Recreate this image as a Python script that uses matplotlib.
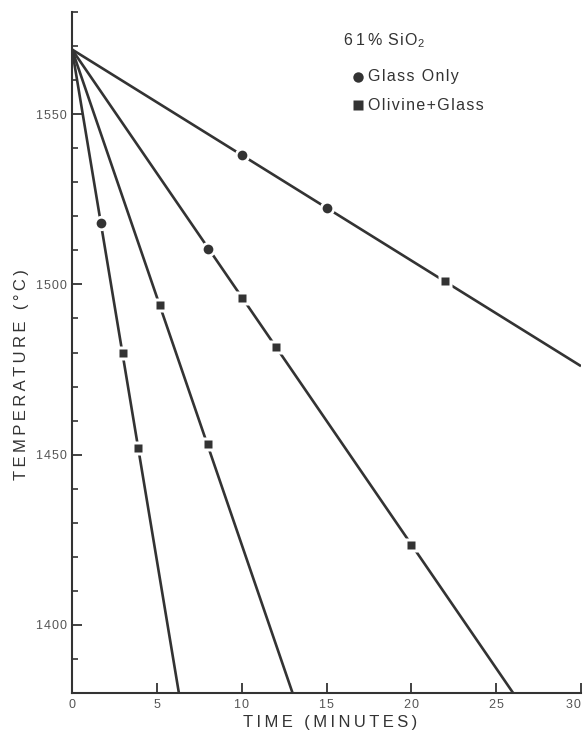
import matplotlib
matplotlib.use("Agg")
import matplotlib.pyplot as plt
from matplotlib.ticker import MultipleLocator

plt.rcParams["font.family"] = ["Liberation Sans", "DejaVu Sans"]
plt.rcParams["mathtext.fontset"] = "custom"
plt.rcParams["mathtext.rm"] = "Liberation Sans"

INK = "#333333"

# cooling paths: every run starts at the same melt temperature
start_time = 0
start_temp = 1569
line_end_time = [30, 26, 13, 6.3]
line_end_temp = [1476, 1380, 1380, 1380]

# quench points, read by phase assemblage
glass_time = [10, 15, 8, 1.7]
glass_temp = [1538, 1522.5, 1510.5, 1518]
olivine_time = [22, 10, 12, 20, 5.2, 8, 3, 3.9]
olivine_temp = [1501, 1496, 1481.5, 1423.5, 1494, 1453, 1480, 1452]

x_ticks = [0, 5, 10, 15, 20, 25, 30]
y_ticks = [1400, 1450, 1500, 1550]


def spaced(s, gap="\u2009"):
    return gap.join(s)


fig = plt.figure(figsize=(5.85, 7.33), dpi=100)
ax = fig.add_axes([72 / 585, 40 / 733, 509 / 585, 681 / 733])

for t_end, T_end in zip(line_end_time, line_end_temp):
    ax.plot([start_time, t_end], [start_temp, T_end], color=INK, lw=1.9,
            solid_capstyle="butt", zorder=2)

# white halo breaks the line around each marker
for t, T, m, ms in [(glass_time, glass_temp, "o", 7.0),
                    (olivine_time, olivine_temp, "s", 6.4)]:
    ax.plot(t, T, ls="none", marker=m, ms=ms + 4.0, mfc="white", mec="none", zorder=3)
    ax.plot(t, T, ls="none", marker=m, ms=ms, mfc=INK, mec="none", zorder=4)

ax.set_xlim(0, 30)
ax.set_ylim(1380, 1580)
ax.set_xticks(x_ticks, [spaced(str(v), "\u200a") for v in x_ticks])
ax.set_yticks(y_ticks, [spaced(str(v), "\u200a") for v in y_ticks])
ax.yaxis.set_minor_locator(MultipleLocator(10))
ax.get_xticklabels()[-1].set_ha("right")

for side in ("top", "right"):
    ax.spines[side].set_visible(False)
for side in ("left", "bottom"):
    ax.spines[side].set_linewidth(1.5)
    ax.spines[side].set_color(INK)

ax.tick_params(axis="both", which="major", direction="in", length=7, width=1.3,
               color=INK, labelsize=9, labelcolor="#555555")
ax.tick_params(axis="y", which="minor", direction="in", length=4.5, width=1.2, color=INK)
ax.tick_params(axis="x", pad=4)
ax.tick_params(axis="y", pad=3.5)

fig.text(330 / 585, 1 - 722 / 733, spaced("TIME (MINUTES)"), ha="center", va="center",
         fontsize=12, color=INK)
fig.text(22 / 585, 1 - 375 / 733, spaced("TEMPERATURE (°C)"), ha="center", va="center",
         rotation=90, fontsize=12, color=INK)

# key
fig.text(343 / 585, 1 - 41 / 733, spaced("61%") + "\u2009\u2009" + spaced("SiO", "\u200a")
         + r"$_2$", ha="left", va="center", fontsize=11.5, color=INK)
key = [("o", "Glass Only", 77), ("s", "Olivine+Glass", 105)]
for m, label, ypx in key:
    fig.lines.append(plt.Line2D([358 / 585], [1 - ypx / 733], transform=fig.transFigure,
                                ls="none", marker=m, ms=7.5 if m == "o" else 6.6,
                                mfc=INK, mec="none"))
    fig.text(368 / 585, 1 - ypx / 733, spaced(label, "\u200a"), ha="left", va="center",
             fontsize=11.5, color=INK)

fig.savefig("out.png", dpi=100)
